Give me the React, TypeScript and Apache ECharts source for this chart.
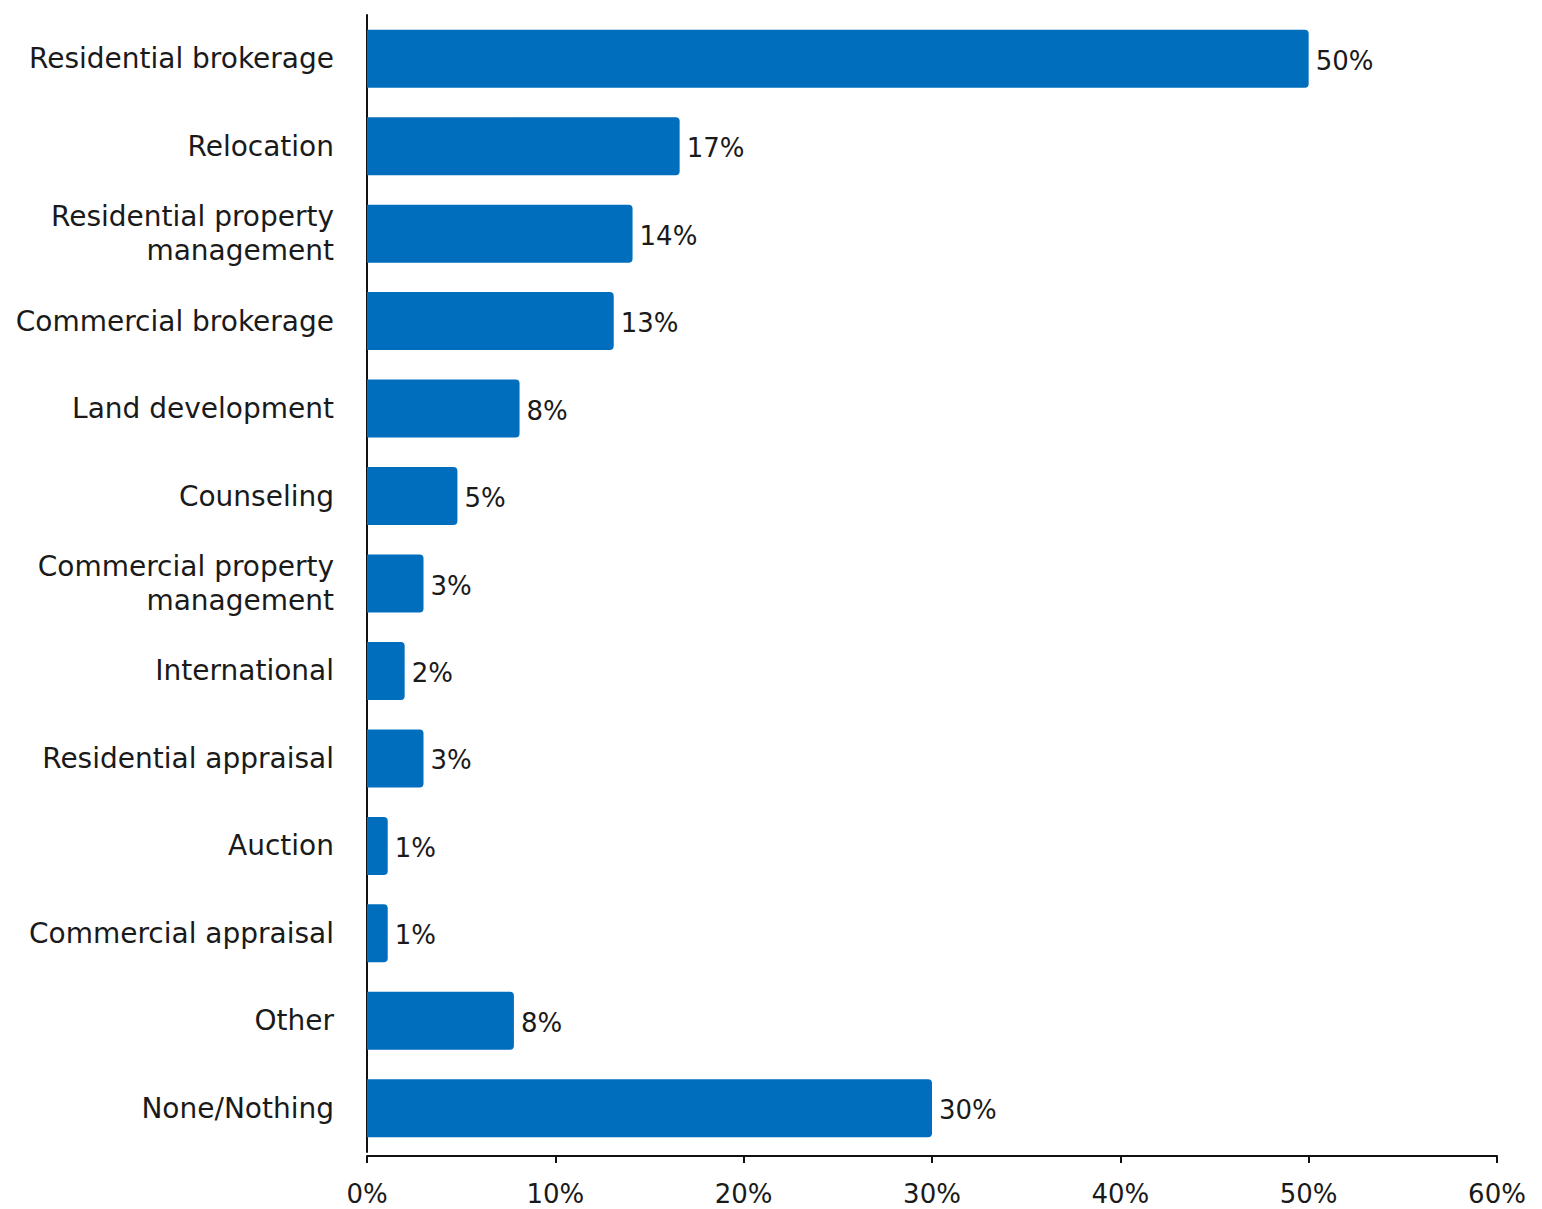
import React, { useEffect, useRef } from "react";
import * as echarts from "echarts";

const categories = [
  "Residential brokerage",
  "Relocation",
  "Residential property\nmanagement",
  "Commercial brokerage",
  "Land development",
  "Counseling",
  "Commercial property\nmanagement",
  "International",
  "Residential appraisal",
  "Auction",
  "Commercial appraisal",
  "Other",
  "None/Nothing",
];
const values = [50, 16.6, 14.1, 13.1, 8.1, 4.8, 3, 2, 3, 1.1, 1.1, 7.8, 30];
const xTicks = [0, 10, 20, 30, 40, 50, 60];

export default function App() {
  const ref = useRef<HTMLDivElement>(null);
  useEffect(() => {
    document.body.style.margin = "0";
    const chart = echarts.init(ref.current!, null, { renderer: "svg" });
    const font = "DejaVu Sans";
    chart.setOption({
      animation: false,
      grid: { left: 367, right: 45, top: 15, height: 1137, containLabel: false },
      xAxis: {
        type: "value",
        min: xTicks[0],
        max: xTicks[xTicks.length - 1],
        interval: 10,
        offset: 4,
        splitLine: { show: false },
        axisLine: { show: true, lineStyle: { color: "#111", width: 2 } },
        axisTick: { show: true, length: 7, lineStyle: { color: "#111", width: 2 } },
        axisLabel: {
          formatter: (v: number) => v + "%",
          fontFamily: font,
          fontSize: 26,
          color: "#1a1a1a",
          margin: 25,
        },
      },
      yAxis: {
        type: "category",
        data: categories,
        inverse: true,
        axisLine: { show: true, lineStyle: { color: "#111", width: 2 } },
        axisTick: { show: false },
        axisLabel: {
          fontFamily: font,
          fontSize: 28,
          color: "#1a1a1a",
          margin: 33,
          lineHeight: 34,
          align: "right",
        },
      },
      series: [
        {
          type: "bar",
          data: values,
          barWidth: 58,
          itemStyle: { color: "#006dbd", borderRadius: [0, 4, 4, 0] },
          label: {
            show: true,
            position: "right",
            distance: 7,
            offset: [0, 2],
            fontFamily: font,
            fontSize: 26,
            color: "#1a1a1a",
            formatter: (p: any) => Math.round(p.value) + "%",
          },
        },
      ],
    });
    return () => chart.dispose();
  }, []);
  return <div ref={ref} style={{ width: 1542, height: 1209 }} />;
}
